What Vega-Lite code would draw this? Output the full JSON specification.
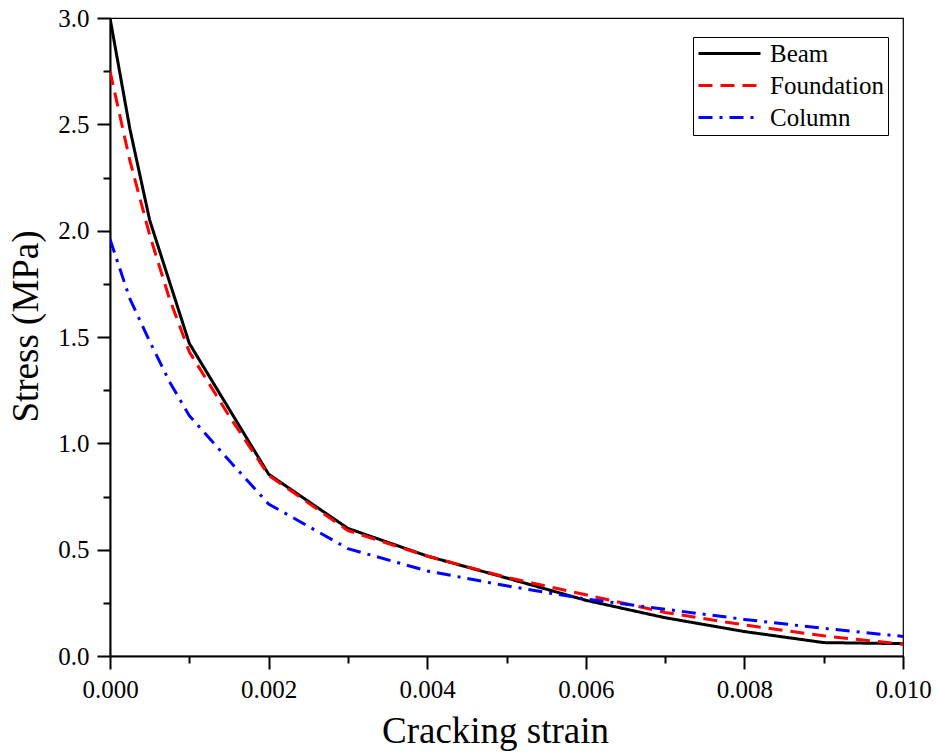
{
  "$schema": "https://vega.github.io/schema/vega-lite/v6.json",
  "width": 793,
  "height": 638,
  "autosize": {"type": "none"},
  "padding": {"left": 110, "top": 18, "right": 33, "bottom": 98},
  "background": "white",
  "config": {
    "view": {"stroke": "black", "strokeWidth": 1.2},
    "font": "Liberation Serif",
    "style": {
      "guide-label": {"font": "Liberation Serif", "fontSize": 25, "fill": "black"},
      "guide-title": {"font": "Liberation Serif", "fontSize": 37, "fill": "black"}
    },
    "axis": {"labelFont": "Liberation Serif", "labelFontSize": 25, "titleFont": "Liberation Serif"},
    "legend": {"labelFont": "Liberation Serif", "labelFontSize": 25}
  },
  "data": {
    "values": [
      {"series": "Beam", "strain": 0.0, "stress": 3.0},
      {"series": "Beam", "strain": 0.00025, "stress": 2.48},
      {"series": "Beam", "strain": 0.0005, "stress": 2.05},
      {"series": "Beam", "strain": 0.001, "stress": 1.47},
      {"series": "Beam", "strain": 0.002, "stress": 0.855},
      {"series": "Beam", "strain": 0.003, "stress": 0.6},
      {"series": "Beam", "strain": 0.004, "stress": 0.47},
      {"series": "Beam", "strain": 0.005, "stress": 0.367},
      {"series": "Beam", "strain": 0.006, "stress": 0.262},
      {"series": "Beam", "strain": 0.007, "stress": 0.18},
      {"series": "Beam", "strain": 0.008, "stress": 0.115},
      {"series": "Beam", "strain": 0.009, "stress": 0.063},
      {"series": "Beam", "strain": 0.01, "stress": 0.058},
      {"series": "Foundation", "strain": 0.0, "stress": 2.75},
      {"series": "Foundation", "strain": 0.00025, "stress": 2.33},
      {"series": "Foundation", "strain": 0.0005, "stress": 1.98},
      {"series": "Foundation", "strain": 0.00075, "stress": 1.68},
      {"series": "Foundation", "strain": 0.001, "stress": 1.43},
      {"series": "Foundation", "strain": 0.0015, "stress": 1.13},
      {"series": "Foundation", "strain": 0.002, "stress": 0.85},
      {"series": "Foundation", "strain": 0.003, "stress": 0.59},
      {"series": "Foundation", "strain": 0.004, "stress": 0.47},
      {"series": "Foundation", "strain": 0.005, "stress": 0.37},
      {"series": "Foundation", "strain": 0.006, "stress": 0.288},
      {"series": "Foundation", "strain": 0.007, "stress": 0.205},
      {"series": "Foundation", "strain": 0.008, "stress": 0.146},
      {"series": "Foundation", "strain": 0.009, "stress": 0.095},
      {"series": "Foundation", "strain": 0.01, "stress": 0.055},
      {"series": "Column", "strain": 0.0, "stress": 1.96},
      {"series": "Column", "strain": 0.00025, "stress": 1.68},
      {"series": "Column", "strain": 0.0005, "stress": 1.48},
      {"series": "Column", "strain": 0.00075, "stress": 1.29},
      {"series": "Column", "strain": 0.001, "stress": 1.13},
      {"series": "Column", "strain": 0.0015, "stress": 0.92},
      {"series": "Column", "strain": 0.002, "stress": 0.715},
      {"series": "Column", "strain": 0.0025, "stress": 0.61},
      {"series": "Column", "strain": 0.003, "stress": 0.505},
      {"series": "Column", "strain": 0.004, "stress": 0.4},
      {"series": "Column", "strain": 0.005, "stress": 0.33},
      {"series": "Column", "strain": 0.006, "stress": 0.268},
      {"series": "Column", "strain": 0.007, "stress": 0.22},
      {"series": "Column", "strain": 0.008, "stress": 0.172},
      {"series": "Column", "strain": 0.009, "stress": 0.13},
      {"series": "Column", "strain": 0.01, "stress": 0.092}
    ]
  },
  "mark": {"type": "line", "strokeWidth": 3, "clip": true},
  "encoding": {
    "x": {
      "field": "strain",
      "type": "quantitative",
      "scale": {"domain": [0, 0.01], "nice": false, "zero": false},
      "axis": {
        "title": "Cracking strain",
        "titleFont": "Liberation Serif",
        "titleFontSize": 37,
        "titleFontWeight": "normal",
        "titleColor": "black",
        "titleBaseline": "alphabetic",
        "titleX": 385,
        "titleY": 86,
        "values": [0, 0.001, 0.002, 0.003, 0.004, 0.005, 0.006, 0.007, 0.008, 0.009, 0.01],
        "labelExpr": "abs(datum.value*500 - round(datum.value*500)) < 0.01 ? format(datum.value, '.3f') : ''",
        "labelFont": "Liberation Serif",
        "labelFontSize": 25,
        "labelColor": "black",
        "labelPadding": 8,
        "labelFlush": false,
        "labelOverlap": false,
        "labelBound": false,
        "grid": false,
        "domainColor": "black",
        "domainWidth": 2,
        "tickColor": "black",
        "tickWidth": 2,
        "tickSize": {"condition": {"test": "abs(datum.value*500 - round(datum.value*500)) < 0.01", "value": 13}, "value": 7}
      }
    },
    "y": {
      "field": "stress",
      "type": "quantitative",
      "scale": {"domain": [0, 3], "nice": false, "zero": false},
      "axis": {
        "title": "Stress (MPa)",
        "titleFont": "Liberation Serif",
        "titleFontSize": 37,
        "titleFontWeight": "normal",
        "titleColor": "black",
        "titleBaseline": "alphabetic",
        "titleAlign": "center",
        "titleAngle": -90,
        "titleX": -73,
        "titleY": 308,
        "values": [0, 0.25, 0.5, 0.75, 1, 1.25, 1.5, 1.75, 2, 2.25, 2.5, 2.75, 3],
        "labelExpr": "abs(datum.value*2 - round(datum.value*2)) < 0.01 ? format(datum.value, '.1f') : ''",
        "labelFont": "Liberation Serif",
        "labelFontSize": 25,
        "labelColor": "black",
        "labelPadding": 8,
        "labelFlush": false,
        "labelOverlap": false,
        "labelBound": false,
        "grid": false,
        "domainColor": "black",
        "domainWidth": 2,
        "tickColor": "black",
        "tickWidth": 2,
        "tickSize": {"condition": {"test": "abs(datum.value*2 - round(datum.value*2)) < 0.01", "value": 13}, "value": 7}
      }
    },
    "color": {
      "field": "series",
      "type": "nominal",
      "title": null,
      "scale": {"domain": ["Beam", "Foundation", "Column"], "range": ["black", "#ff0000", "#0000ff"]},
      "legend": {
        "orient": "none",
        "legendX": 583,
        "legendY": 19,
        "title": null,
        "symbolType": "M-3,0L3,0",
        "symbolSize": 427,
        "symbolStrokeWidth": 3,
        "symbolOffset": 20,
        "labelFont": "Liberation Serif",
        "labelFontSize": 25,
        "labelColor": "black",
        "labelOffset": 28,
        "rowPadding": 6,
        "padding": 4,
        "strokeColor": "black",
        "fillColor": "white"
      }
    },
    "strokeDash": {
      "field": "series",
      "type": "nominal",
      "title": null,
      "scale": {"domain": ["Beam", "Foundation", "Column"], "range": [[1, 0], [14, 8], [14, 7, 3, 7]]}
    }
  }
}
